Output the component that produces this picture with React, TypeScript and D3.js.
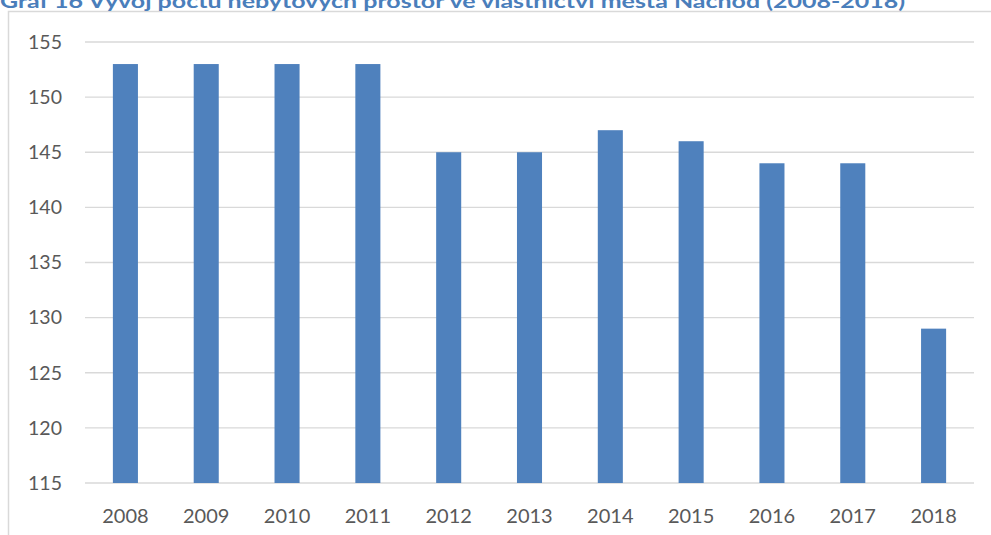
import React from "react";
import * as d3 from "d3";

const years = ["2008", "2009", "2010", "2011", "2012", "2013", "2014", "2015", "2016", "2017", "2018"];
const values = [153, 153, 153, 153, 145, 145, 147, 146, 144, 144, 129];
const yTicks = [115, 120, 125, 130, 135, 140, 145, 150, 155];
const title = "Graf 16 Vývoj počtu nebytových prostor ve vlastnictví města Náchod (2008-2018)";

const W = 991;
const H = 535;
const FONT = "Lato, 'Open Sans', sans-serif";

export default function App() {
  const x = d3.scaleBand<string>().domain(years).range([85, 974]).paddingInner(0.69).paddingOuter(0.345);
  const y = d3.scaleLinear().domain([115, 155]).range([483, 42]);
  return (
    <svg width={W} height={H} style={{ position: "absolute", left: 0, top: 0, background: "#fff" }}>
      <rect x={0} y={0} width={W} height={H} fill="#fff" />
      <path d={`M8.5,${H} V11.5 H${W}`} fill="none" stroke="#d9d9d9" strokeWidth={1.5} />
      <text x={0} y={7.5} fill="#4a7ebb" fontFamily={FONT} fontWeight={700} fontSize={19} textLength={905} lengthAdjust="spacingAndGlyphs">
        {title}
      </text>
      {yTicks.map((t) => (
        <g key={t}>
          <line x1={85} x2={974} y1={y(t)} y2={y(t)} stroke="#d9d9d9" strokeWidth={1.3} />
          <text x={62} y={y(t)} dy="0.35em" textAnchor="end" fill="#595959" fontFamily={FONT} fontSize={19.5}>
            {t}
          </text>
        </g>
      ))}
      {years.map((yr, i) => (
        <rect key={yr} x={x(yr)} y={y(values[i])} width={x.bandwidth()} height={y(115) - y(values[i])} fill="#4f81bd" />
      ))}
      {years.map((yr) => (
        <text key={yr} x={(x(yr) as number) + x.bandwidth() / 2} y={523} textAnchor="middle" fill="#595959" fontFamily={FONT} fontSize={20}>
          {yr}
        </text>
      ))}
    </svg>
  );
}
